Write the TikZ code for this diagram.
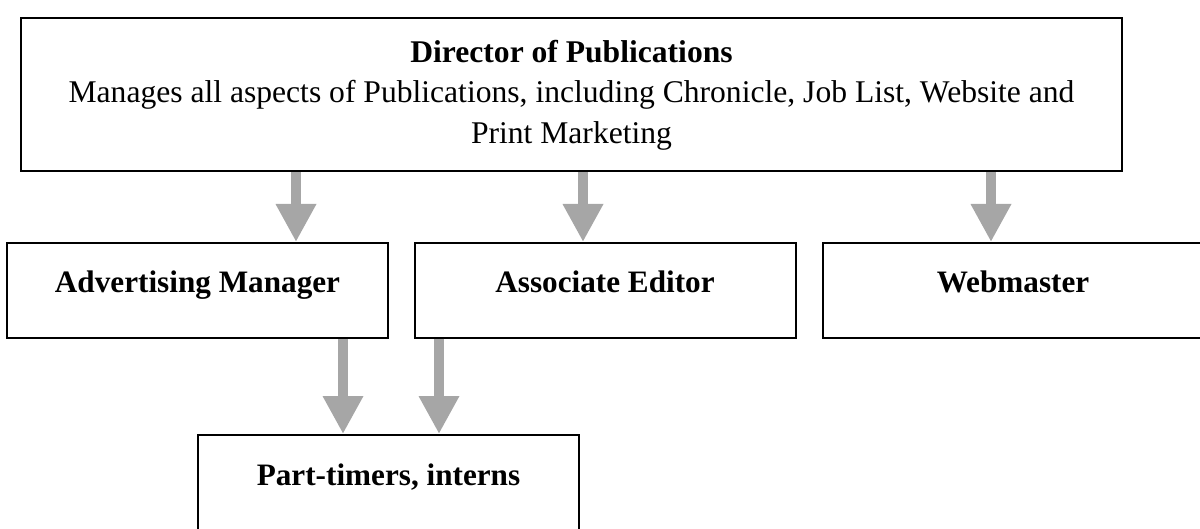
\documentclass[tikz,border=0pt]{standalone}
\usepackage{fontspec}
\setmainfont{Liberation Serif}
\usetikzlibrary{arrows.meta}
\definecolor{arrowgray}{HTML}{A6A6A6}

\begin{document}
\begin{tikzpicture}[x=0.5pt, y=-0.5pt, % 1 unit = 1 pixel of the page, y runs downwards
    box/.style={draw, line width=1pt, inner sep=0pt, minimum width=190.5pt,
        text height=25pt, text depth=22.5pt, font=\fontsize{15.6}{18}\selectfont\bfseries},
    flow/.style={draw=arrowgray, line width=5pt, -{Triangle[width=19pt,length=19pt]}}]

    % 1. Page frame
    \useasboundingbox (0,0) rectangle (1200,529);

    % 2. Top box: director
    \node[draw, line width=1pt, minimum width=550.5pt, minimum height=76.5pt,
        align=center, font=\fontsize{15.8}{20.2}\selectfont] (dir) at (571.5,95)
        {\textbf{Director of Publications}\\
         Manages all aspects of Publications, including Chronicle, Job List, Website and\\
         Print Marketing};

    % 3. Second row of boxes
    \node[box] (adv)  at (197.5,290.5) {Advertising Manager};
    \node[box] (edit) at (605,290.5)   {Associate Editor};
    \node[box] (web)  at (1013,290.5)  {Webmaster};

    % 4. Bottom box
    \node[box] (part) at (388.5,482.5) {Part-timers, interns};

    % 5. Columns of the arrows
    \coordinate (c1) at (296,0);
    \coordinate (c2) at (583,0);
    \coordinate (c3) at (991,0);
    \coordinate (c4) at (343,0);
    \coordinate (c5) at (439,0);

    % 6. Gray arrows
    \draw[flow] (dir.south -| c1) -- (adv.north -| c1);
    \draw[flow] (dir.south -| c2) -- (edit.north -| c2);
    \draw[flow] (dir.south -| c3) -- (web.north -| c3);
    \draw[flow] (adv.south -| c4) -- (part.north -| c4);
    \draw[flow] (edit.south -| c5) -- (part.north -| c5);

\end{tikzpicture}
\end{document}
